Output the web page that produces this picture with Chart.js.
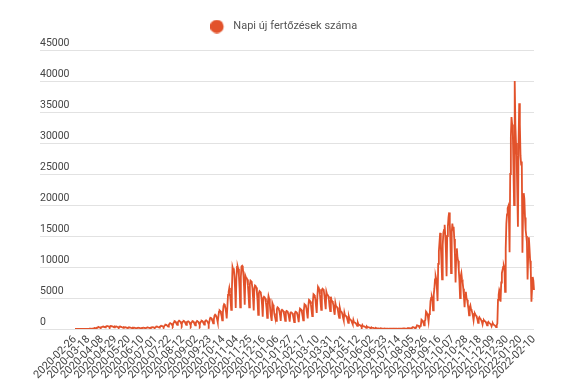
<!DOCTYPE html>
<html>
<head>
<meta charset="utf-8">
<script src="https://cdn.jsdelivr.net/npm/chart.js@4.4.1/dist/chart.umd.min.js"></script>
<style>
  html, body { margin: 0; padding: 0; background: #fff; }
</style>
</head>
<body>
<canvas id="chart" width="575" height="387"></canvas>
<script>
const seriesLabel = 'Napi új fertőzések száma'
const firstDay = '2020-02-26'
const missingDay = '2021-07-21' // the source skips one day in July 2021
const labelEvery = 21
const lineColor = '#e2522b'

// daily values, one row per week
// 2020-02-26 .. 2020-09-15
const casesPart1 = [
  1, 0, 1, 0, 0, 0, 0,
  1, 1, 2, 1, 2, 2, 3,
  5, 8, 10, 20, 12, 18, 25,
  30, 45, 55, 60, 40, 50, 70,
  100, 130, 150, 160, 150, 130, 190,
  250, 280, 300, 260, 230, 190, 310,
  330, 380, 420, 360, 300, 250, 400,
  450, 500, 480, 420, 350, 280, 470,
  430, 460, 440, 380, 320, 260, 420,
  400, 420, 380, 330, 280, 200, 370,
  350, 380, 330, 290, 230, 180, 310,
  280, 300, 270, 230, 190, 150, 250,
  230, 250, 220, 190, 160, 130, 210,
  200, 220, 190, 160, 130, 110, 180,
  180, 200, 180, 150, 120, 100, 170,
  190, 210, 200, 170, 140, 110, 200,
  220, 250, 230, 200, 170, 140, 240,
  280, 310, 290, 250, 200, 170, 300,
  350, 390, 370, 330, 270, 220, 380,
  450, 520, 500, 440, 360, 300, 500,
  620, 700, 680, 600, 480, 400, 680,
  850, 950, 920, 820, 650, 520, 900,
  1100, 1250, 1200, 1050, 850, 650, 1100,
  1250, 1350, 1300, 1150, 900, 700, 1150,
  1200, 1300, 1250, 1100, 850, 650, 1100,
  1150, 1250, 1200, 1050, 800, 620, 1050,
  1150, 1250, 1200, 1050, 800, 600, 1050,
  1150, 1300, 1250, 1100, 850, 650, 1100,
  1200, 1350, 1300, 1150, 900, 700, 1150
]

// 2020-09-16 .. 2021-07-20
const casesPart2 = [
  1330, 1400, 1330, 1190, 980, 700, 1190,
  1710, 1800, 1750, 1500, 1250, 900, 1550,
  2150, 2300, 2200, 1950, 1600, 1100, 2000,
  2800, 3000, 2900, 2550, 2100, 1400, 2600,
  3700, 4000, 3900, 3400, 2700, 1700, 3500,
  5500, 6000, 6600, 5800, 4600, 3100, 6000,
  10000, 9600, 9800, 8500, 6500, 3400, 8000,
  10000, 10100, 9700, 8600, 6600, 3500, 8400,
  10100, 10200, 9900, 8700, 6700, 3900, 8600,
  8300, 8200, 8000, 7000, 5400, 3500, 7200,
  7800, 7700, 7400, 6600, 5000, 3000, 6500,
  7000, 6900, 6700, 5900, 4500, 2300, 5800,
  6100, 6000, 5800, 5100, 3900, 2000, 5000,
  5200, 5100, 4900, 4300, 3300, 1800, 4300,
  5300, 4900, 4000, 2800, 1900, 1300, 4200,
  3900, 3500, 2500, 2000, 1500, 1300, 3200,
  3500, 3400, 3200, 2800, 2200, 1300, 3000,
  3100, 3000, 2900, 2500, 1900, 1300, 2700,
  2900, 2850, 2700, 2350, 1800, 1200, 2600,
  2700, 2650, 2550, 2250, 1700, 1100, 2500,
  2800, 2750, 2650, 2300, 1750, 1100, 2600,
  3300, 3200, 3100, 2700, 2100, 1400, 3000,
  4000, 3900, 3800, 3300, 2500, 1700, 3700,
  4700, 4600, 4450, 3900, 3000, 2100, 4400,
  5600, 5500, 5300, 4700, 3600, 2600, 5200,
  6800, 6600, 6400, 5600, 4300, 3100, 6300,
  6500, 6400, 6200, 5400, 4200, 3200, 6000,
  5600, 5500, 5300, 4700, 3600, 2900, 5200,
  4600, 4500, 4300, 3800, 2900, 2300, 4200,
  3700, 3600, 3450, 3000, 2300, 1800, 3400,
  2900, 2800, 2700, 2350, 1800, 1400, 2650,
  2200, 2150, 2050, 1800, 1400, 1000, 2000,
  1600, 1550, 1500, 1300, 1000, 750, 1450,
  1100, 1050, 1000, 880, 700, 500, 1000,
  700, 680, 650, 570, 450, 320, 640,
  450, 440, 420, 370, 290, 200, 410,
  300, 290, 280, 240, 190, 130, 270,
  180, 175, 165, 145, 110, 80, 165,
  120, 115, 110, 95, 75, 50, 110,
  85, 80, 75, 65, 50, 35, 75,
  65, 60, 58, 50, 40, 25, 60,
  60, 58, 55, 48, 38, 22, 58,
  65, 62, 60, 52, 40, 25, 62,
  75, 72, 70, 60, 45, 30, 72
]

// 2021-07-22 .. 2022-02-10
const casesPart3 = [
  100, 95, 85, 70, 45, 85, 95,
  160, 150, 135, 110, 70, 140, 155,
  300, 285, 255, 210, 130, 260, 290,
  600, 570, 510, 420, 250, 520, 580,
  1500, 1400, 1250, 1000, 600, 1300, 1450,
  2800, 2650, 2400, 1950, 1200, 2400, 2700,
  4500, 5000, 5200, 4800, 3000, 5500, 6500,
  8000, 8500, 8000, 6500, 4500, 10500, 12500,
  14000, 15500, 13500, 11000, 8000, 13500, 15500,
  16000, 16800, 15000, 12500, 8500, 15000, 16500,
  18000, 18800, 17000, 14000, 9000, 15500, 17000,
  16000, 16500, 14500, 12000, 7500, 12000, 13000,
  11500, 11000, 9500, 7800, 5000, 8500, 9000,
  8000, 7500, 6500, 5200, 3500, 5500, 6000,
  5000, 4700, 4000, 3300, 2200, 3500, 3800,
  3200, 3000, 2600, 2100, 1400, 2300, 2500,
  2300, 2150, 1900, 1550, 1000, 1700, 1900,
  1700, 1600, 1400, 1150, 750, 1300, 1450,
  1300, 1250, 1100, 900, 600, 1000, 1150,
  1000, 950, 850, 700, 450, 800, 900,
  700, 650, 580, 480, 300, 600, 900,
  4700, 5500, 6300, 6000, 4400, 7500, 9000,
  9500, 10000, 10200, 9800, 6000, 13000, 17000,
  18500, 19500, 19800, 18000, 12400, 25000, 31000,
  34200, 33000, 32000, 26000, 20000, 40000, 33000,
  30000, 28000, 22000, 16500, 30000, 36400, 33000,
  28000, 26500, 27000, 12300, 19000, 21900, 21000,
  18000, 16000, 15000, 14000, 8000, 12000, 14800,
  13000, 11000, 9500, 4400, 6500, 8400, 7800,
  6300
]

const cases = [...casesPart1, ...casesPart2, ...casesPart3]

const days = []
for (let d = new Date(firstDay + 'T00:00:00Z'); days.length < cases.length; d.setUTCDate(d.getUTCDate() + 1)) {
  const s = d.toISOString().slice(0, 10)
  if (s !== missingDay) days.push(s)
}

// legend dot, drawn a little left of its box so the text sits further away
const legendDot = document.createElement('canvas')
legendDot.width = 24
legendDot.height = 14
{
  const c = legendDot.getContext('2d')
  c.fillStyle = lineColor
  c.beginPath()
  c.arc(6.5, 7, 6.8, 0, Math.PI * 2)
  c.fill()
}

// a bit more room between the legend and the plot
const legendGap = {
  id: 'legendGap',
  beforeInit(chart) {
    const fit = chart.legend.fit
    chart.legend.fit = function () {
      fit.call(this)
      this.height += 8
    }
  }
}

new Chart(document.querySelector('#chart'), {
  type: 'line',
  data: {
    labels: days,
    datasets: [{
      label: seriesLabel,
      data: cases,
      borderColor: lineColor,
      backgroundColor: lineColor,
      borderWidth: 1.8,
      pointRadius: 0,
      tension: 0
    }]
  },
  options: {
    responsive: false,
    animation: false,
    devicePixelRatio: 1,
    layout: { padding: { left: 40, right: 41, top: 11, bottom: 0 } },
    plugins: {
      legend: {
        labels: {
          usePointStyle: true,
          pointStyle: legendDot,
          padding: 10,
          color: '#555',
          font: { family: 'Roboto', size: 11 }
        }
      },
      tooltip: { enabled: false }
    },
    scales: {
      x: {
        grid: { display: false, drawTicks: false },
        border: { display: false },
        ticks: {
          autoSkip: false,
          minRotation: 45,
          maxRotation: 45,
          padding: 4,
          color: '#444',
          font: { family: 'Roboto', size: 11 },
          callback(value, index) {
            return index % labelEvery === 0 ? this.getLabelForValue(value) : null
          }
        },
        afterFit(scale) { scale.height = 58 }
      },
      y: {
        min: 0,
        max: 45000,
        grid: { color: '#e2e2e2', tickLength: 35 },
        border: { display: false },
        ticks: {
          stepSize: 5000,
          crossAlign: 'far',
          labelOffset: -7,
          color: '#444',
          font: { family: 'Roboto', size: 10.5 },
          callback: value => String(value)
        },
        afterFit(scale) { scale.width = 35 }
      }
    }
  },
  plugins: [legendGap]
})
</script>
</body>
</html>
